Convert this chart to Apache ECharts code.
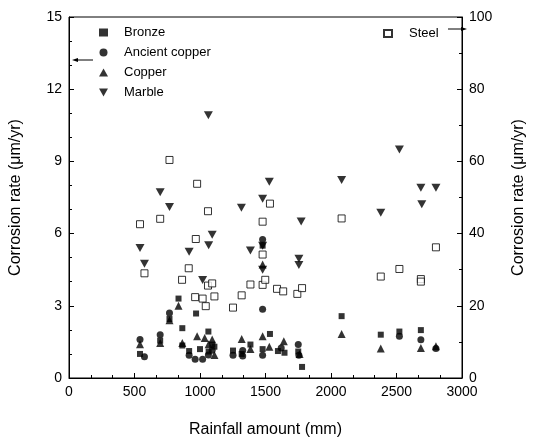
<!DOCTYPE html>
<html>
<head>
<meta charset="utf-8">
<script src="https://cdn.jsdelivr.net/npm/echarts@6/dist/echarts.min.js"></script>
<style>
  html, body { margin: 0; padding: 0; background: #fff; }
  #chart { width: 535px; height: 443px; }
</style>
</head>
<body>
<div id="chart"></div>
<script>
// rainfall (mm) / corrosion rate pairs
var bronze = [
    [542, 1.0], [696, 1.55], [767, 2.45], [836, 3.3], [865, 2.07], [865, 1.35],
    [917, 1.12], [970, 2.68], [1000, 1.2], [1064, 1.93], [1066, 1.1], [1093, 1.39],
    [1110, 1.3], [1252, 1.14], [1318, 1.0], [1385, 1.39], [1478, 5.5], [1478, 1.2],
    [1534, 1.83], [1595, 1.12], [1645, 1.05], [1750, 1.1], [1779, 0.46],
    [2081, 2.57], [2380, 1.8], [2522, 1.93], [2686, 1.99]
];
var ancientCopper = [
    [542, 1.6], [576, 0.88], [696, 1.8], [767, 2.7], [917, 0.95], [963, 0.78],
    [1020, 0.78], [1064, 0.96], [1093, 1.15], [1252, 0.95], [1326, 1.14], [1326, 0.91],
    [1478, 5.75], [1478, 2.86], [1478, 0.95], [1620, 1.25], [1750, 1.39], [1755, 0.95],
    [2522, 1.73], [2686, 1.59], [2801, 1.23]
];
var copper = [
    [542, 1.4], [696, 1.45], [767, 2.4], [836, 3.0], [865, 1.45], [978, 1.73],
    [1036, 1.66], [1066, 1.4], [1093, 1.6], [1110, 0.96], [1318, 1.62], [1385, 1.2],
    [1478, 4.72], [1478, 1.73], [1529, 1.3], [1640, 1.53], [1760, 1.0],
    [2081, 1.83], [2380, 1.23], [2686, 1.25], [2801, 1.32]
];
var marble = [
    [542, 5.4], [576, 4.75], [696, 7.72], [767, 7.11], [917, 5.25], [1020, 4.07],
    [1064, 10.92], [1066, 5.52], [1093, 5.95], [1316, 7.07], [1385, 5.3], [1478, 7.45],
    [1478, 5.5], [1478, 4.5], [1529, 8.15], [1755, 4.95], [1755, 4.7], [1772, 6.5],
    [2081, 8.23], [2380, 6.87], [2522, 9.49], [2686, 7.9], [2693, 7.22], [2801, 7.9]
];
// steel uses the right axis
var steel = [
    [542, 42.6], [576, 29.0], [696, 44.1], [767, 60.4], [863, 27.2], [914, 30.4],
    [963, 22.4], [968, 38.5], [978, 53.8], [1020, 22.0], [1044, 19.9], [1061, 46.2],
    [1061, 25.6], [1093, 26.2], [1110, 22.6], [1252, 19.5], [1318, 22.9], [1385, 25.9],
    [1478, 25.8], [1498, 27.2], [1478, 34.2], [1478, 43.3], [1534, 48.3], [1588, 24.7],
    [1635, 24.0], [1743, 23.3], [1779, 24.9], [2081, 44.2], [2380, 28.1], [2522, 30.2],
    [2686, 27.4], [2686, 26.7], [2801, 36.2]
];

var FONT = 'Liberation Sans';
var downTri = 'path://M0,0 L10,0 L5,9 Z';

var myChart = echarts.init(document.getElementById('chart'));

function plain(v) { return String(v); }

var option = {
    animation: false,
    textStyle: { fontFamily: FONT, color: '#000' },
    grid: {
        left: 63, right: 64, top: 17, bottom: 59,
        show: true, borderColor: '#000', borderWidth: 1
    },
    legend: [
        {
            data: ['Bronze', 'Ancient copper', 'Copper', 'Marble'],
            orient: 'vertical',
            left: 94, top: 21,
            itemWidth: 9, itemHeight: 8, itemGap: 7,
            textStyle: { fontFamily: FONT, fontSize: 13, color: '#000', padding: [0, 0, 0, 11] }
        },
        {
            data: ['Steel'],
            left: 378, top: 22,
            itemWidth: 8, itemHeight: 7,
            textStyle: { fontFamily: FONT, fontSize: 13, color: '#000', padding: [0, 0, 0, 12] }
        }
    ],
    xAxis: {
        type: 'value',
        min: 0, max: 3000, interval: 500,
        name: 'Rainfall amount (mm)',
        nameLocation: 'middle', nameGap: 44,
        nameTextStyle: { fontFamily: FONT, fontSize: 16, color: '#000' },
        axisLine: { lineStyle: { color: '#000', width: 1 } },
        axisTick: { inside: true, length: 5, lineStyle: { color: '#000' } },
        minorTick: { show: true, splitNumber: 3, length: 3, lineStyle: { color: '#000' } },
        axisLabel: { fontFamily: FONT, fontSize: 14, color: '#000', margin: 7, formatter: plain },
        splitLine: { show: false }
    },
    yAxis: [
        {
            type: 'value',
            min: 0, max: 15, interval: 3,
            name: 'Corrosion rate (\u03bcm/yr)',
            nameLocation: 'middle', nameGap: 45,
            nameTextStyle: { fontFamily: FONT, fontSize: 16, color: '#000' },
            axisLine: { show: true, lineStyle: { color: '#000', width: 1 } },
            axisTick: { inside: true, length: 5, lineStyle: { color: '#000' } },
            minorTick: { show: true, splitNumber: 3, length: 3, lineStyle: { color: '#000' } },
            axisLabel: { fontFamily: FONT, fontSize: 14, color: '#000', margin: 7, formatter: plain },
            splitLine: { show: false }
        },
        {
            type: 'value',
            min: 0, max: 100, interval: 20,
            position: 'right',
            name: 'Corrosion rate (\u03bcm/yr)',
            nameLocation: 'middle', nameGap: 49,
            nameRotate: 90,
            nameTextStyle: { fontFamily: FONT, fontSize: 16, color: '#000' },
            axisLine: { show: true, lineStyle: { color: '#000', width: 1 } },
            axisTick: { inside: true, length: 5, lineStyle: { color: '#000' } },
            minorTick: { show: true, splitNumber: 2, length: 3, lineStyle: { color: '#000' } },
            axisLabel: { fontFamily: FONT, fontSize: 14, color: '#000', margin: 7, formatter: plain },
            splitLine: { show: false }
        }
    ],
    series: [
        {
            name: 'Steel', type: 'scatter', yAxisIndex: 1, data: steel,
            symbol: 'rect', symbolSize: 7,
            itemStyle: { color: '#fff', borderColor: '#000', borderWidth: 1 }
        },
        {
            name: 'Bronze', type: 'scatter', data: bronze,
            symbol: 'rect', symbolSize: 6,
            itemStyle: { color: '#000' }
        },
        {
            name: 'Ancient copper', type: 'scatter', data: ancientCopper,
            symbol: 'circle', symbolSize: 7,
            itemStyle: { color: '#000' }
        },
        {
            name: 'Copper', type: 'scatter', data: copper,
            symbol: 'triangle', symbolSize: 8,
            itemStyle: { color: '#000' }
        },
        {
            name: 'Marble', type: 'scatter', data: marble,
            symbol: downTri, symbolSize: [9, 8],
            itemStyle: { color: '#000' }
        }
    ],
    graphic: [
        // left arrow: these series use the left axis
        { type: 'line', shape: { x1: 76, y1: 60, x2: 93, y2: 60 }, style: { stroke: '#000', lineWidth: 1 } },
        { type: 'polygon', shape: { points: [[72, 60], [78, 58], [78, 62]] }, style: { fill: '#000' } },
        // right arrow for steel
        { type: 'line', shape: { x1: 448, y1: 29, x2: 463, y2: 29 }, style: { stroke: '#000', lineWidth: 1 } },
        { type: 'polygon', shape: { points: [[467, 29], [461, 27], [461, 31]] }, style: { fill: '#000' } }
    ]
};

myChart.setOption(option);
</script>
</body>
</html>
